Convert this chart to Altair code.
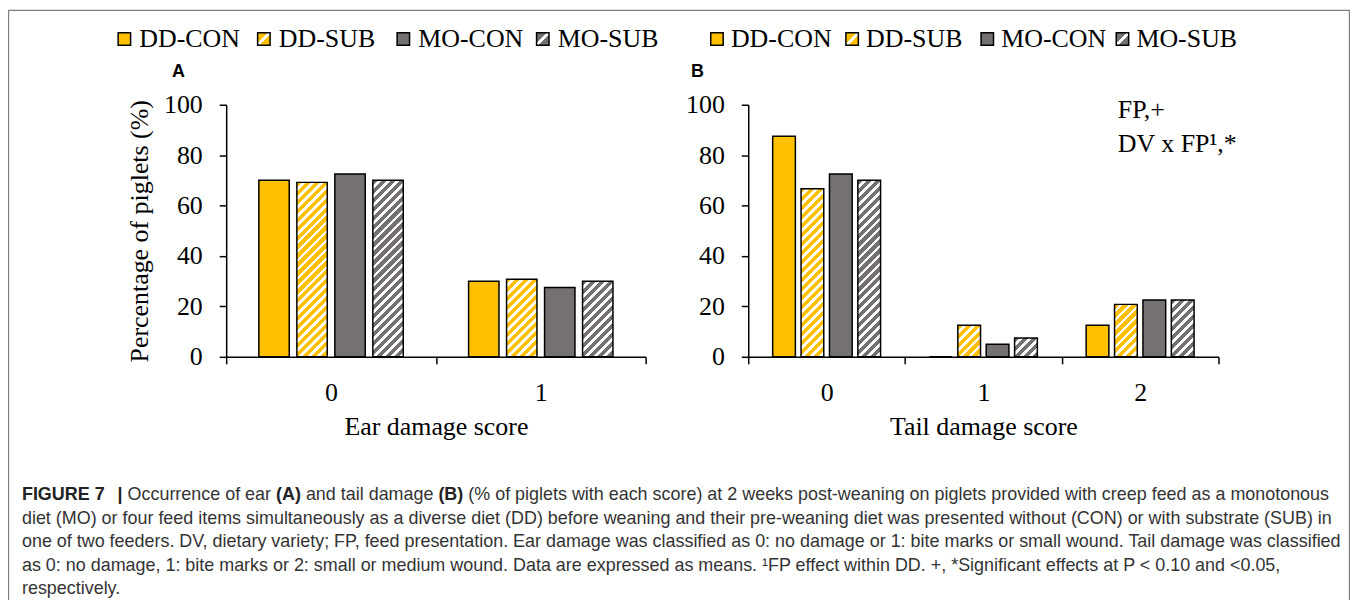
import altair as alt

# ---------------- data ----------------
series = ["DD-CON", "DD-SUB", "MO-CON", "MO-SUB"]
ear_scores = ["0", "1"]
ear_values = {
    "DD-CON": [70.0, 30.0],
    "DD-SUB": [69.2, 30.8],
    "MO-CON": [72.5, 27.5],
    "MO-SUB": [70.0, 30.0],
}
tail_scores = ["0", "1", "2"]
tail_values = {
    "DD-CON": [87.5, 0.0, 12.5],
    "DD-SUB": [66.7, 12.5, 20.8],
    "MO-CON": [72.5, 5.0, 22.5],
    "MO-SUB": [70.0, 7.5, 22.5],
}
y_ticks = [0, 20, 40, 60, 80, 100]

caption_line1 = [
    ("FIGURE 7", "bold"), ("|", "bold"), ("Occurrence of ear", "normal"), ("(A)", "bold"),
    ("and tail damage", "normal"), ("(B)", "bold"),
    ("(% of piglets with each score) at 2 weeks post-weaning on piglets provided with creep feed as a monotonous", "normal"),
]
caption_rest = [
    "diet (MO) or four feed items simultaneously as a diverse diet (DD) before weaning and their pre-weaning diet was presented without (CON) or with substrate (SUB) in",
    "one of two feeders. DV, dietary variety; FP, feed presentation. Ear damage was classified as 0: no damage or 1: bite marks or small wound. Tail damage was classified",
    "as 0: no damage, 1: bite marks or 2: small or medium wound. Data are expressed as means. \u00b9FP effect within DD. +, *Significant effects at P < 0.10 and <0.05,",
    "respectively.",
]

# ---------------- style / layout ----------------
YELLOW = "#FFC000"
GRAY = "#767171"
SERIF = "Liberation Serif"
SANS = "Liberation Sans"
W, H = 1347, 592
Y_RANGE = [349, 96]
PI, PO = 0.2, 0.86
A_X = [219, 640]
B_X = [743, 1215]
CAP_SIZE = 18


def hatch(base, w, h, period=9.0, white=0.42):
    den = w * w + h * h
    x2 = w * (w + h) / den
    y2 = h * (w + h) / den
    dt = period / (w + h)
    stops = []
    t = 0.0
    while t < 1.0:
        t1 = min(t + dt * (1 - white), 1.0)
        t2 = min(t + dt, 1.0)
        stops += [
            {"offset": round(t, 5), "color": base},
            {"offset": round(t1, 5), "color": base},
            {"offset": round(t1, 5), "color": "#ffffff"},
            {"offset": round(t2, 5), "color": "#ffffff"},
        ]
        t += dt
    return {"gradient": "linear", "x1": 0, "y1": 0, "x2": round(x2, 5), "y2": round(y2, 5), "stops": stops}


def legend_hatch(base):
    return {"gradient": "linear", "x1": 0, "y1": 0, "x2": 1, "y2": 1, "stops": [
        {"offset": 0, "color": base}, {"offset": 0.42, "color": base},
        {"offset": 0.42, "color": "#ffffff"}, {"offset": 0.58, "color": "#ffffff"},
        {"offset": 0.58, "color": base}, {"offset": 1, "color": base}]}


def bar_layer(scores, values, x_range, x_title, y_title):
    rows = [{"score": s, "group": g, "value": values[g][i]}
            for g in series for i, s in enumerate(scores)]
    band = (x_range[1] - x_range[0]) / len(scores)
    step = band / (4 - PI + 2 * PO)
    bar_w = step * (1 - PI)
    plot_h = Y_RANGE[0] - Y_RANGE[1]
    conds = []
    for r in rows:
        if r["group"].endswith("SUB") and r["value"] > 0:
            base = YELLOW if r["group"].startswith("DD") else GRAY
            conds.append({
                "test": f"datum.group == '{r['group']}' && datum.score == '{r['score']}'",
                "value": hatch(base, bar_w, r["value"] / 100 * plot_h),
            })
    conds.append({"test": "datum.group == 'DD-CON'", "value": YELLOW})
    yaxis = dict(orient="left", offset=-x_range[0], values=y_ticks, grid=False,
                 domainColor="black", domainWidth=1.5, tickColor="black", tickWidth=1.5,
                 tickSize=7, labelFont=SERIF, labelFontSize=26, labelColor="black",
                 labelPadding=17, labelBaseline="middle")
    if y_title:
        yaxis.update(title=y_title, titleFont=SERIF, titleFontSize=26, titleFontWeight="normal",
                     titleColor="black", titleAngle=270, titleBaseline="alphabetic",
                     titleAlign="center", titleX=-79, titleY=222.5)
    else:
        yaxis.update(title=None)
    return alt.Chart(alt.Data(values=rows)).mark_bar(stroke="black", strokeWidth=1.5).encode(
        x=alt.X("score:N", sort=scores,
                scale=alt.Scale(domain=scores, range=x_range, paddingInner=0, paddingOuter=0),
                axis=alt.Axis(title=x_title, orient="bottom", offset=Y_RANGE[0] - H, grid=False,
                              domainColor="black", domainWidth=1.5, tickColor="black",
                              tickWidth=1.5, tickSize=7, tickBand="extent", labelAngle=0,
                              labelFont=SERIF, labelFontSize=26, labelColor="black",
                              labelPadding=16, titleFont=SERIF, titleFontSize=26,
                              titleFontWeight="normal", titleColor="black",
                              titleBaseline="alphabetic", titleY=78)),
        xOffset=alt.XOffset("group:N", sort=series,
                            scale=alt.Scale(domain=series, paddingInner=PI, paddingOuter=PO)),
        y=alt.Y("value:Q", scale=alt.Scale(domain=[0, 100], range=Y_RANGE, nice=False),
                axis=alt.Axis(**yaxis)),
        fill=alt.value(GRAY, condition=conds),
    )


def legend_layers(centers, dx):
    rows = [{"group": g} for g in series]
    lx = alt.X("group:N", sort=series,
               scale=alt.Scale(type="point", domain=series, range=centers, padding=0), axis=None)
    conds = [
        {"test": "datum.group == 'DD-SUB'", "value": legend_hatch(YELLOW)},
        {"test": "datum.group == 'MO-SUB'", "value": legend_hatch(GRAY)},
        {"test": "datum.group == 'DD-CON'", "value": YELLOW},
    ]
    sym = alt.Chart(alt.Data(values=rows)).mark_square(
        size=156, stroke="black", strokeWidth=1.5, opacity=1).encode(
        x=lx, y=alt.value(30), fill=alt.value(GRAY, condition=conds))
    txt = alt.Chart(alt.Data(values=rows)).mark_text(
        align="left", baseline="middle", dx=dx, font=SERIF, fontSize=26, color="black").encode(
        x=lx, y=alt.value(30), text="group:N")
    return [sym, txt]


def label(text, x, y, **kw):
    return alt.Chart(alt.Data(values=[{}])).mark_text(text=text, **kw).encode(
        x=alt.value(x), y=alt.value(y))


border = alt.Chart(alt.Data(values=[{}])).mark_rect(
    fill="#ffffff", fillOpacity=0, stroke="#808080", strokeWidth=1.2).encode(
    x=alt.value(0.6), x2=alt.value(W - 0.6), y=alt.value(1.2), y2=alt.value(H + 20))

layers = [border,
          bar_layer(ear_scores, ear_values, A_X, "Ear damage score", "Percentage of piglets (%)"),
          bar_layer(tail_scores, tail_values, B_X, "Tail damage score", "")]
layers += legend_layers([116.8, 536.8], 15)
layers += legend_layers([711.6, 1118.6], 14)
layers += [
    label("A", 171, 63, font=SANS, fontWeight="bold", fontSize=18, align="center", baseline="middle", color="black"),
    label("B", 692, 63, font=SANS, fontWeight="bold", fontSize=18, align="center", baseline="middle", color="black"),
    label("FP,+", 1114, 109, font=SERIF, fontSize=26, align="left", baseline="alphabetic", color="black"),
    label("DV x FP\u00b9,*", 1114, 143, font=SERIF, fontSize=26, align="left", baseline="alphabetic", color="black"),
]

line1_x = [14, 110, 120, 269, 299, 432, 462]
for (seg, wt), xx in zip(caption_line1, line1_x):
    layers.append(label(seg, xx, 493, font=SANS, fontWeight=wt, fontSize=CAP_SIZE, align="left",
                        baseline="alphabetic", color="#222222" if wt == "bold" else "#333333"))
for i, line in enumerate(caption_rest):
    layers.append(label(line, 14, 516.5 + 23.5 * i, font=SANS, fontSize=CAP_SIZE, align="left",
                        baseline="alphabetic", color="#333333"))

chart = alt.layer(*layers).resolve_scale(
    x="independent", y="independent", xOffset="independent"
).resolve_axis(x="independent", y="independent").properties(
    width=W, height=H, padding=0, autosize=alt.AutoSizeParams(type="none")
).configure_view(strokeWidth=0)

chart.save("out.html", embed_options={"renderer": "svg", "actions": False})
